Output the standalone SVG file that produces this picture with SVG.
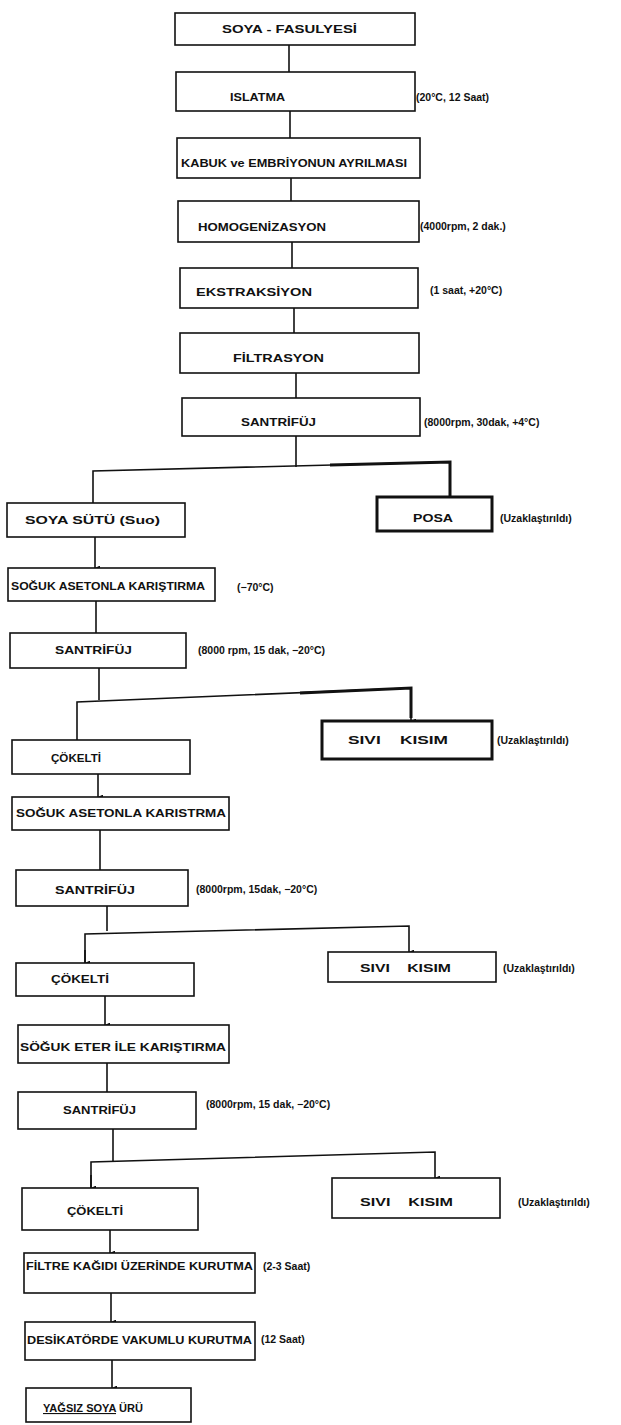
<svg xmlns="http://www.w3.org/2000/svg" width="621" height="1425" viewBox="0 0 621 1425">
<defs>
<style>
.b{fill:#fff;stroke:#111;stroke-width:1.6}
.bt{fill:#fff;stroke:#111;stroke-width:3}
.c{fill:none;stroke:#111;stroke-width:1.6}
.ct{fill:none;stroke:#111;stroke-width:3}
text{font-family:"Liberation Sans",Arial,sans-serif;font-size:11px;fill:#111}
.l{font-weight:bold}
.a{font-size:10.5px}
</style>
<marker id="ar" viewBox="0 0 6 6" refX="3" refY="6" markerWidth="5" markerHeight="5" orient="auto-start-reverse" markerUnits="userSpaceOnUse">
<path d="M0,0 L6,0 L3,6 z" fill="#111"/>
</marker>
</defs>
<rect width="621" height="1425" fill="#fff"/>
<g id="connectors">
<path class="c" d="M289,45 V72"/>
<path class="c" d="M290,111 V138"/>
<path class="c" d="M291,178 V201"/>
<path class="c" d="M292,242 V268"/>
<path class="c" d="M294,308 V333"/>
<path class="c" d="M296,373 V398"/>
<path class="c" d="M296,436 V467"/>
<path class="c" d="M93,503 V471 L450,462 V497"/>
<path class="ct" d="M330,465 L450,462 V497"/>
<path class="c" d="M95,537 V568" marker-end="url(#ar)"/>
<path class="c" d="M96,601 V633"/>
<path class="c" d="M99,668 V700"/>
<path class="c" d="M77,740 V702 L411,688 V721" marker-end="url(#ar)"/>
<path class="ct" d="M300,693 L411,688 V718"/>
<path class="c" d="M98,774 V797" marker-end="url(#ar)"/>
<path class="c" d="M100,830 V870"/>
<path class="c" d="M107,906 V931"/>
<path class="c" d="M85,963 V934 L409,926 V952" marker-end="url(#ar)"/>
<path class="c" d="M85,950 V963" marker-end="url(#ar)"/>
<path class="c" d="M105,996 V1025" marker-end="url(#ar)"/>
<path class="c" d="M107,1063 V1092"/>
<path class="c" d="M113,1129 V1161"/>
<path class="c" d="M91,1188 V1162 L435,1152 V1178" marker-end="url(#ar)"/>
<path class="c" d="M91,1175 V1188" marker-end="url(#ar)"/>
<path class="c" d="M110,1230 V1253" marker-end="url(#ar)"/>
<path class="c" d="M111,1293 V1322" marker-end="url(#ar)"/>
<path class="c" d="M112,1360 V1388" marker-end="url(#ar)"/>
</g>
<g id="n1"><rect class="b" x="175" y="13" width="240" height="32"/><text class="l" x="222" y="33" textLength="135" lengthAdjust="spacingAndGlyphs">SOYA - FASULYESİ</text></g>
<g id="n2"><rect class="b" x="176" y="72" width="239" height="39"/><text class="l" x="230" y="101" textLength="55" lengthAdjust="spacingAndGlyphs">ISLATMA</text><text class="a l" x="416" y="101">(20°C, 12 Saat)</text></g>
<g id="n3"><rect class="b" x="177" y="138" width="243" height="40"/><text class="l" x="181" y="167" textLength="226" lengthAdjust="spacingAndGlyphs">KABUK ve EMBRİYONUN AYRILMASI</text></g>
<g id="n4"><rect class="b" x="178" y="201" width="241" height="41"/><text class="l" x="198" y="231" textLength="128" lengthAdjust="spacingAndGlyphs">HOMOGENİZASYON</text><text class="a l" x="420" y="230">(4000rpm, 2 dak.)</text></g>
<g id="n5"><rect class="b" x="180" y="268" width="238" height="40"/><text class="l" x="196" y="296" textLength="116" lengthAdjust="spacingAndGlyphs">EKSTRAKSİYON</text><text class="a l" x="430" y="294">(1 saat, +20°C)</text></g>
<g id="n6"><rect class="b" x="180" y="333" width="239" height="40"/><text class="l" x="233" y="362" textLength="91" lengthAdjust="spacingAndGlyphs">FİLTRASYON</text></g>
<g id="n7"><rect class="b" x="182" y="398" width="238" height="38"/><text class="l" x="241" y="426" textLength="75" lengthAdjust="spacingAndGlyphs">SANTRİFÜJ</text><text class="a l" x="424" y="426">(8000rpm, 30dak, +4°C)</text></g>
<g id="n8"><rect class="b" x="7" y="503" width="178" height="34"/><text class="l" x="25" y="524" textLength="135" lengthAdjust="spacingAndGlyphs">SOYA SÜTÜ (Suo)</text></g>
<g id="n9"><rect class="bt" x="377" y="497" width="115" height="34"/><text class="l" x="413" y="522" textLength="40" lengthAdjust="spacingAndGlyphs">POSA</text><text class="a l" x="500" y="522">(Uzaklaştırıldı)</text></g>
<g id="n10"><rect class="b" x="8" y="568" width="207" height="33"/><text class="l" x="11" y="590" textLength="194" lengthAdjust="spacingAndGlyphs">SOĞUK ASETONLA KARIŞTIRMA</text><text class="a l" x="237" y="591">(−70°C)</text></g>
<g id="n11"><rect class="b" x="10" y="633" width="176" height="35"/><text class="l" x="55" y="654" textLength="77" lengthAdjust="spacingAndGlyphs">SANTRİFÜJ</text><text class="a l" x="198" y="654">(8000 rpm, 15 dak, −20°C)</text></g>
<g id="n12"><rect class="b" x="12" y="740" width="178" height="34"/><text class="l" x="51" y="762" textLength="50" lengthAdjust="spacingAndGlyphs">ÇÖKELTİ</text></g>
<g id="n13"><rect class="bt" x="322" y="721" width="170" height="38"/><text class="l" x="348" y="744" xml:space="preserve" textLength="100" lengthAdjust="spacingAndGlyphs">SIVI    KISIM</text><text class="a l" x="497" y="744">(Uzaklaştırıldı)</text></g>
<g id="n14"><rect class="b" x="12" y="797" width="217" height="33"/><text class="l" x="16" y="817" textLength="210" lengthAdjust="spacingAndGlyphs">SOĞUK ASETONLA KARISTRMA</text></g>
<g id="n15"><rect class="b" x="16" y="870" width="172" height="36"/><text class="l" x="55" y="894" textLength="80" lengthAdjust="spacingAndGlyphs">SANTRİFÜJ</text><text class="a l" x="196" y="893">(8000rpm, 15dak, −20°C)</text></g>
<g id="n16"><rect class="b" x="16" y="963" width="178" height="33"/><text class="l" x="51" y="983" textLength="58" lengthAdjust="spacingAndGlyphs">ÇÖKELTİ</text></g>
<g id="n17"><rect class="b" x="328" y="952" width="168" height="30"/><text class="l" x="360" y="972" xml:space="preserve" textLength="91" lengthAdjust="spacingAndGlyphs">SIVI    KISIM</text><text class="a l" x="503" y="972">(Uzaklaştırıldı)</text></g>
<g id="n18"><rect class="b" x="18" y="1025" width="211" height="38"/><text class="l" x="20" y="1051" textLength="206" lengthAdjust="spacingAndGlyphs">SÖĞUK ETER İLE KARIŞTIRMA</text></g>
<g id="n19"><rect class="b" x="18" y="1092" width="178" height="37"/><text class="l" x="63" y="1114" textLength="73" lengthAdjust="spacingAndGlyphs">SANTRİFÜJ</text><text class="a l" x="206" y="1108">(8000rpm, 15 dak, −20°C)</text></g>
<g id="n20"><rect class="b" x="22" y="1188" width="176" height="42"/><text class="l" x="67" y="1215" textLength="56" lengthAdjust="spacingAndGlyphs">ÇÖKELTİ</text></g>
<g id="n21"><rect class="b" x="332" y="1178" width="168" height="40"/><text class="l" x="360" y="1206" xml:space="preserve" textLength="93" lengthAdjust="spacingAndGlyphs">SIVI    KISIM</text><text class="a l" x="518" y="1206">(Uzaklaştırıldı)</text></g>
<g id="n22"><rect class="b" x="24" y="1253" width="231" height="40"/><text class="l" x="26" y="1270" textLength="227" lengthAdjust="spacingAndGlyphs">FİLTRE KAĞIDI ÜZERİNDE KURUTMA</text><text class="a l" x="263" y="1270">(2-3 Saat)</text></g>
<g id="n23"><rect class="b" x="25" y="1322" width="230" height="38"/><text class="l" x="27" y="1344" textLength="225" lengthAdjust="spacingAndGlyphs">DESİKATÖRDE VAKUMLU KURUTMA</text><text class="a l" x="261" y="1343">(12 Saat)</text></g>
<g id="n24"><rect class="b" x="26" y="1388" width="165" height="34"/><text class="l" x="43" y="1412" textLength="100" lengthAdjust="spacingAndGlyphs"><tspan text-decoration="underline">YAĞSIZ SOYA</tspan> ÜRÜ</text></g>
</svg>
